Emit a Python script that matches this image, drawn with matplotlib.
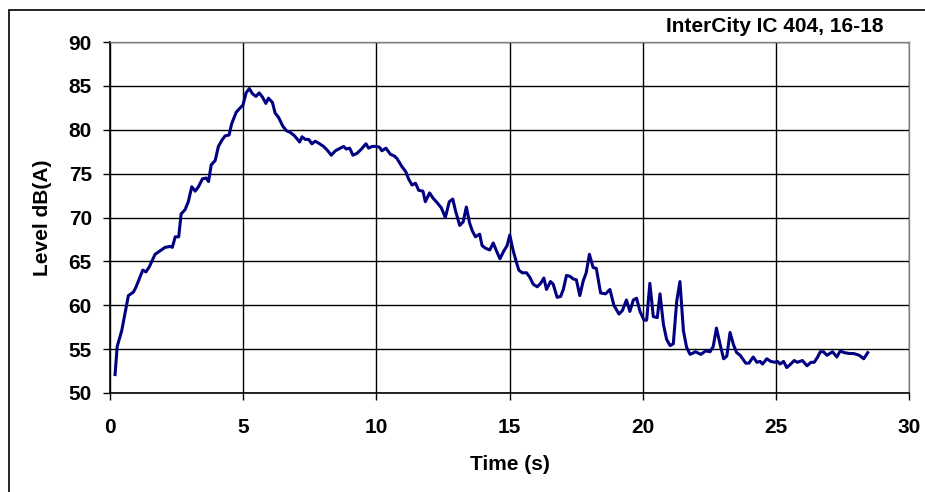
"""Train pass-by noise level vs time, InterCity IC 404."""
import matplotlib
matplotlib.use("Agg")
import matplotlib.pyplot as plt
from matplotlib.patches import Rectangle

TITLE = "InterCity IC 404, 16-18"
X_LABEL = "Time (s)"
Y_LABEL = "Level dB(A)"

time_s = [
    0.19, 0.27, 0.44, 0.69, 0.88, 0.98, 1.23, 1.35, 1.48, 1.69, 1.88, 2.07,
    2.26, 2.34, 2.45, 2.58, 2.67, 2.82, 2.94, 3.07, 3.20, 3.32, 3.47, 3.61,
    3.70, 3.80, 3.95, 4.07, 4.20, 4.32, 4.47, 4.57, 4.74, 4.89, 4.99, 5.11,
    5.23, 5.35, 5.48, 5.60, 5.73, 5.85, 5.95, 6.10, 6.20, 6.33, 6.49, 6.62,
    6.77, 6.93, 7.12, 7.21, 7.33, 7.46, 7.58, 7.71, 7.87, 8.02, 8.15, 8.31,
    8.46, 8.65, 8.77, 8.87, 9.00, 9.12, 9.27, 9.44, 9.61, 9.71, 9.84, 10.00,
    10.12, 10.21, 10.36, 10.53, 10.68, 10.78, 10.96, 11.11, 11.21, 11.34,
    11.47, 11.59, 11.75, 11.84, 12.00, 12.13, 12.28, 12.44, 12.59, 12.74,
    12.87, 12.97, 13.13, 13.26, 13.38, 13.50, 13.60, 13.72, 13.88, 13.97,
    14.10, 14.26, 14.39, 14.51, 14.64, 14.79, 14.91, 15.01, 15.14, 15.26,
    15.35, 15.48, 15.64, 15.76, 15.89, 16.04, 16.17, 16.29, 16.39, 16.54,
    16.64, 16.79, 16.92, 17.02, 17.14, 17.27, 17.39, 17.51, 17.64, 17.77,
    17.88, 18.00, 18.14, 18.26, 18.42, 18.61, 18.77, 18.92, 19.11, 19.24,
    19.39, 19.52, 19.65, 19.77, 19.90, 20.05, 20.15, 20.27, 20.40, 20.55,
    20.65, 20.78, 20.90, 21.03, 21.15, 21.28, 21.40, 21.53, 21.65, 21.78,
    21.99, 22.18, 22.37, 22.53, 22.65, 22.77, 22.91, 23.04, 23.16, 23.28,
    23.41, 23.53, 23.66, 23.87, 23.99, 24.15, 24.29, 24.41, 24.50, 24.66,
    24.81, 24.96, 25.06, 25.16, 25.29, 25.41, 25.56, 25.69, 25.81, 26.00,
    26.17, 26.32, 26.44, 26.57, 26.67, 26.79, 26.92, 27.13, 27.29, 27.42,
    27.57, 27.76, 27.92, 28.13, 28.30, 28.45,
]
level_dba = [
    52.1, 55.3, 57.1, 61.1, 61.5, 62.1, 64.0, 63.8, 64.4, 65.8, 66.2, 66.6,
    66.7, 66.6, 67.8, 67.8, 70.4, 70.9, 71.8, 73.5, 73.0, 73.5, 74.4, 74.5,
    74.1, 76.0, 76.5, 78.1, 78.8, 79.3, 79.4, 80.7, 82.0, 82.5, 82.8, 84.2,
    84.7, 84.1, 83.8, 84.2, 83.7, 83.0, 83.6, 83.1, 81.9, 81.4, 80.4, 79.9,
    79.7, 79.3, 78.6, 79.2, 78.9, 78.9, 78.4, 78.7, 78.4, 78.1, 77.7, 77.1,
    77.6, 77.9, 78.1, 77.8, 77.9, 77.1, 77.3, 77.8, 78.4, 77.9, 78.1, 78.1,
    78.0, 77.6, 77.9, 77.2, 77.0, 76.7, 75.8, 75.2, 74.4, 73.7,
    73.9, 73.1, 73.0, 71.8, 72.8, 72.2, 71.7, 71.1, 70.0, 71.8,
    72.1, 70.8, 69.1, 69.5, 71.2, 69.4, 68.5, 67.8, 68.1, 66.8,
    66.5, 66.3, 67.1, 66.2, 65.3, 66.2, 66.8, 68.0, 66.2, 64.9,
    64.0, 63.7, 63.7, 63.2, 62.4, 62.1, 62.5, 63.1, 61.8, 62.7,
    62.4, 60.9, 61.0, 61.8, 63.4, 63.3, 63.0, 62.9, 61.1, 62.8,
    63.7, 65.8, 64.3, 64.2, 61.4, 61.3, 61.8, 60.0, 59.0, 59.4,
    60.6, 59.3, 60.6, 60.8, 59.3, 58.3, 58.3, 62.5, 58.7, 58.6,
    61.3, 57.8, 56.1, 55.4, 55.6, 60.5, 62.7, 57.1, 55.2, 54.4,
    54.7, 54.4, 54.8, 54.7, 55.3, 57.4, 55.5, 53.9, 54.2, 56.9,
    55.5, 54.6, 54.3, 53.4, 53.4, 54.1, 53.5, 53.6, 53.3, 53.9,
    53.6, 53.5, 53.6, 53.3, 53.6, 52.9, 53.3, 53.7, 53.5, 53.7,
    53.1, 53.5, 53.5, 54.1, 54.7, 54.7, 54.3, 54.7, 54.1, 54.8,
    54.6, 54.5, 54.5, 54.3, 53.9, 54.6,
]

X_TICKS = [0, 5, 10, 15, 20, 25, 30]
Y_TICKS = [50, 55, 60, 65, 70, 75, 80, 85, 90]

plt.rcParams["font.family"] = ["Liberation Sans", "DejaVu Sans"]
plt.rcParams["font.weight"] = "bold"

W, H = 925, 492
fig = plt.figure(figsize=(W / 100, H / 100), dpi=100)
ax = fig.add_axes([110 / W, 1 - 393 / H, 799 / W, 351 / H])

ax.plot(time_s, level_dba, color="#000080", linewidth=2.2, zorder=3)

ax.set_xlim(0, 30)
ax.set_ylim(50, 90)
ax.set_xticks(X_TICKS)
ax.set_yticks(Y_TICKS)
ax.grid(True, color="black", linewidth=1.0)
ax.set_axisbelow(True)

for side in ("left", "bottom"):
    ax.spines[side].set_color("black")
    ax.spines[side].set_linewidth(1.2)
for side in ("top", "right"):
    ax.spines[side].set_color("#808080")
    ax.spines[side].set_linewidth(1.0)

ax.tick_params(axis="x", direction="out", length=5, width=1.0,
               labelsize=15, pad=13)
ax.tick_params(axis="y", direction="out", length=5, width=1.0,
               labelsize=15, pad=8)
for lab in ax.get_xticklabels() + ax.get_yticklabels():
    lab.set_fontweight("bold")

ax.set_xlabel(X_LABEL, fontsize=15, fontweight="bold")
ax.set_ylabel(Y_LABEL, fontsize=15, fontweight="bold")
ax.xaxis.set_label_coords(0.5, (393 - 465) / 351)
ax.yaxis.set_label_coords((43 - 110) / 799, 0.5)
ax.xaxis.label.set_va("center")
ax.yaxis.label.set_va("center")

fig.text(883 / W, 1 - 27 / H, TITLE, ha="right", va="center",
         fontsize=15, fontweight="bold")

# outer chart frame (cut off at right and bottom in the original)
fig.patches.append(Rectangle((8.5 / W, -0.1), 1.2, 1 - 9.5 / H + 0.1,
                             transform=fig.transFigure, fill=False,
                             edgecolor="black", linewidth=1.2))

fig.savefig("out.png", dpi=100)
